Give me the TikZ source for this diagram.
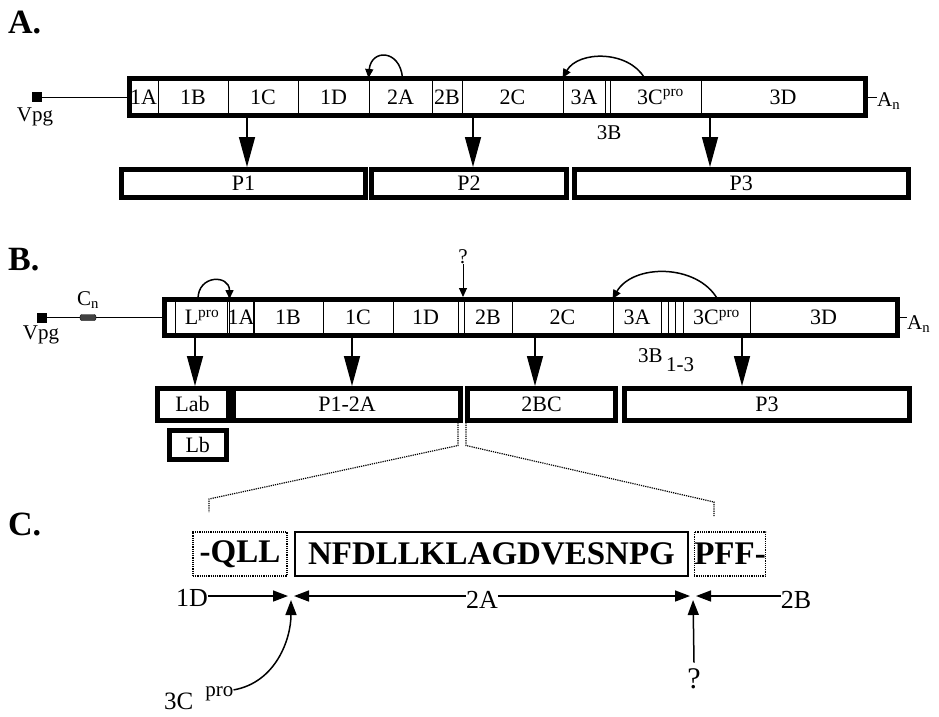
\documentclass[tikz,border=0pt]{standalone}
\usepackage{fontspec}
\setmainfont{Liberation Serif}
\usetikzlibrary{arrows.meta,positioning}

\tikzset{
  genome/.style={draw, line width=5pt, inner sep=0pt},
  seg/.style={draw, line width=1pt, inner sep=0pt, font=\fontsize{22}{24}\selectfont},
  prod/.style={draw, line width=5pt, inner sep=0pt, font=\fontsize{22}{24}\selectfont},
  lbl/.style={inner sep=0pt, font=\fontsize{21}{23}\selectfont},
  lblC/.style={inner sep=0pt, font=\fontsize{26}{28}\selectfont},
  panel/.style={inner sep=0pt, font=\fontsize{34}{36}\selectfont\bfseries},
  seqbox/.style={inner sep=0pt, line width=1.2pt, font=\fontsize{33}{36}\selectfont\bfseries},
  bigarrow/.style={line width=1.5pt, -{Triangle[length=30pt,width=16pt]}},
  cut/.style={line width=1.5pt, -{Triangle[length=9pt,width=8pt]}},
  site/.style={line width=1.5pt, -{Triangle[length=15pt,width=11pt]}},
  zoomline/.style={densely dotted, line width=1.2pt},
}

\begin{document}
\begin{tikzpicture}[x=1pt,y=-1pt]
\useasboundingbox (0,0) rectangle (939,716);

% A. aphthovirus-like genome, P1/P2/P3
\node[panel, anchor=base west] (panA) at (8,33) {A.};
\foreach \l/\r/\t/\n in {129/158/1A/a1A, 158/228/1B/a1B, 228/298/1C/a1C, 298/369/1D/a1D,
    369/432/2A/a2A, 432/462/2B/a2B, 462/563/2C/a2C, 563/605/3A/a3A, 605/610//a3B,
    610/701/\hspace*{10pt}3C\textsuperscript{pro}/a3C, 701/865/3D/a3D}
  \node[seg, minimum width={(\r-\l)*1pt}, minimum height=37pt] (\n) at ({(\l+\r)/2},97) {\t};
\node[genome, minimum width=736pt, minimum height=37pt] (genA) at (497,97) {};
\node[fill, minimum size=10pt, inner sep=0pt] (vpgA) at (37,97) {};
\node[lbl] at (35,117) {Vpg};
\draw[line width=1pt] (vpgA) -- (genA.west);
\node[lbl, anchor=west] (polyA) at (877,101) {A\textsubscript{n}};
\draw[line width=1pt] (genA.east) -- (genA.east -| polyA.west);
\draw[cut] ([xshift=2pt]a2A.north) to[out=95,in=85,looseness=2.2] (a2A.north west);
\draw[cut] ([xshift=-11pt]a3C.north) to[out=120,in=60] (a3A.north west);
\node[lbl] (lab3B) at (609,133) {3B};

\node[prod, minimum width=244pt, minimum height=28pt] (P1) at (243.5,183.5) {P1};
\node[prod, minimum width=195pt, minimum height=28pt] (P2) at (469,183.5) {P2};
\node[prod, minimum width=334.5pt, minimum height=28pt] (P3) at (741.25,183.5) {P3};
\foreach \x/\t [count=\i] in {247/P1, 473/P2, 710/P3} {
  \coordinate (cutA\i) at (\x,118);
  \draw[bigarrow] (cutA\i) -- (cutA\i |- \t.north);
}

% B. genome with leader, products
\node[panel, anchor=base west] (panB) at (8,270) {B.};
\foreach \l/\r/\t/\n in {164.5/175//b0, 175/229/L\textsuperscript{pro}/bL, 229/253/1A/b1A,
    253/323/1B/b1B, 323/393/1C/b1C, 393/458/1D/b1D, 458/464//b2A, 464/512/2B/b2B,
    512/613/2C/b2C, 613/661/3A/b3A, 661/668//b3Ba, 668/675//b3Bb, 675/683//b3Bc,
    683/750/3C\textsuperscript{pro}/b3C, 750/897/3D/b3D}
  \node[seg, minimum width={(\r-\l)*1pt}, minimum height=36pt] (\n) at ({(\l+\r)/2},317.5) {\t};
\node[genome, minimum width=732.5pt, minimum height=36pt] (genB) at (530.75,317.5) {};
\node[fill, minimum size=10pt, inner sep=0pt] (vpgB) at (42,317.5) {};
\node[lbl] at (41,335) {Vpg};
\node[draw, fill=black!75, rounded corners=2pt, minimum width=16pt, minimum height=6pt, inner sep=0pt] (cnB) at (88,317.5) {};
\node[lbl] at (88,300) {C\textsubscript{n}};
\draw[line width=1pt] (vpgB) -- (cnB) -- (genB.west);
\node[lbl, anchor=west] (polyB) at (907,324) {A\textsubscript{n}};
\draw[line width=1pt] (genB.east) -- (genB.east -| polyB.west);
\draw[cut] ([xshift=-4pt]bL.north) to[out=90,in=90,looseness=2] (bL.north east);
\node[lbl] (qB) at (463,257) {?};
\draw[line width=1pt, -{Triangle[length=9pt,width=8pt]}] (qB) -- (qB |- genB.north);
\draw[cut] ([xshift=1pt]b3C.north) to[out=120,in=60] (b3A.north west);
\node[lbl] (lab3Bn) at (666,360) {3B\raisebox{-9pt}{\,1-3}};

\node[prod, minimum width=71pt, minimum height=31.5pt] (Lab) at (192.5,404.25) {Lab};
\node[prod, minimum width=227pt, minimum height=31.5pt] (P12A) at (347,404.25) {P1-2A};
\node[prod, minimum width=148pt, minimum height=31.5pt] (pBC) at (541.5,404.25) {2BC};
\node[prod, minimum width=285pt, minimum height=31.5pt] (P3B) at (767,404.25) {P3};
\node[prod, minimum width=57.5pt, minimum height=29pt] (Lb) at (197.75,445) {Lb};
\foreach \x/\t [count=\i] in {195/Lab, 352/P12A, 535/pBC, 742/P3B} {
  \coordinate (cutB\i) at (\x,338);
  \draw[bigarrow] (cutB\i) -- (cutB\i |- \t.north);
}

% zoom into the 2A region
\coordinate (zL) at (209,512);
\coordinate (zR) at (714,516);
\draw[zoomline] ([xshift=-5pt]P12A.south east) -- ++(0,23) -- ([yshift=13pt]zL) -- (zL);
\draw[zoomline] ([xshift=1pt]pBC.south west) -- ++(0,23) -- ([yshift=14pt]zR) -- (zR);

% C. 2A sequence
\node[panel, anchor=base west] (panC) at (8,535) {C.};
\node[seqbox, draw, densely dotted, minimum width=94pt, minimum height=44pt] (sQLL) at (240,554) {-QLL};
\node[seqbox, draw, minimum width=393pt, minimum height=44pt] (s2A) at (491.5,554) {NFDLLKLAGDVESNPG};
\node[seqbox, draw, densely dotted, minimum width=70pt, minimum height=44pt] (sPFF) at (730,554) {PFF-};

\coordinate (cL) at (291,596);
\coordinate (cR) at (693,596);
\node[lblC] (l1D) at (192,598) {1D};
\node[lblC] (l2A) at (482,600) {2A};
\node[lblC] (l2B) at (796,600) {2B};
\node[lblC, font=\fontsize{30}{32}\selectfont] (qC) at (694,679) {?};
\node[lbl, anchor=base west] (l3C) at (164,709) {{\fontsize{25}{27}\selectfont 3C}\hspace{12pt}\raisebox{13pt}{pro}};
\draw[site, shorten >=3pt] (l1D.east |- cL) -- (cL);
\draw[site, shorten >=3pt] (l2A.west |- cL) -- (cL);
\draw[site, shorten >=3pt] (l2A.east |- cR) -- (cR);
\draw[site, shorten >=3pt] (l2B.west |- cR) -- (cR);
\draw[site, shorten >=4pt] ([yshift=-4pt]l3C.north east) to[out=10,in=-90] (cL);
\draw[site, shorten >=4pt] ([yshift=6pt]qC.north) -- (cR);
\end{tikzpicture}
\end{document}
